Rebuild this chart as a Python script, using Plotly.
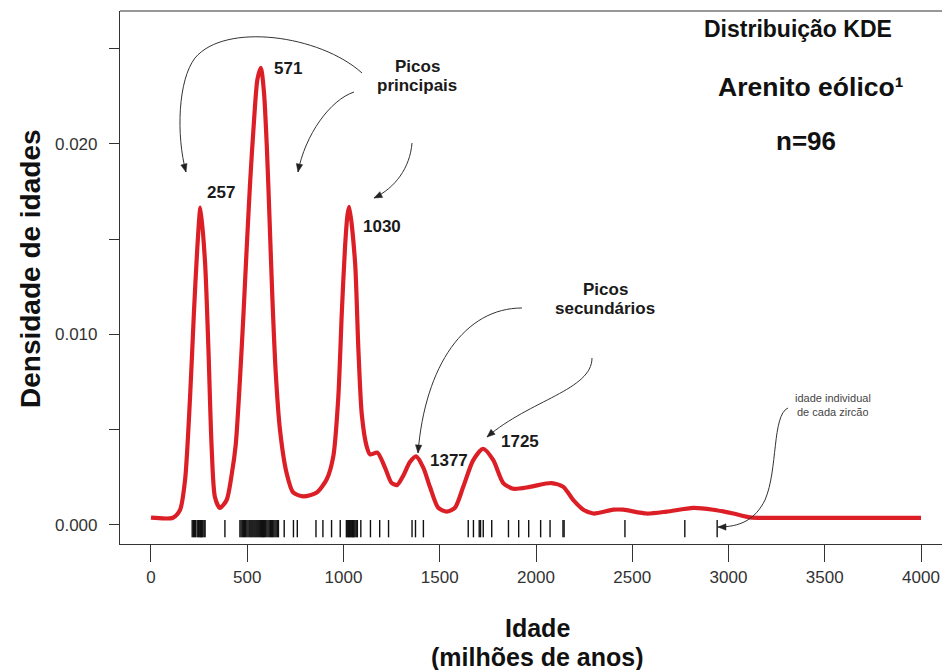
import math
import plotly.graph_objects as go

# ---------------- data ----------------
# KDE curve (age in Ma, density)
age_curve = [0, 114, 151, 177, 203, 223, 241, 257, 281, 298, 315, 332, 358, 393, 420,
             440, 462, 480, 497, 515, 535, 553, 571, 587, 602, 616, 631, 648, 670, 705,
             739, 791, 861, 913, 947, 973, 991, 1008, 1021, 1030, 1060, 1077, 1095, 1121,
             1138, 1176, 1216, 1250, 1279, 1311, 1345, 1377, 1415, 1449, 1492, 1536, 1579,
             1622, 1674, 1725, 1778, 1830, 1882, 1969, 2081, 2142, 2194, 2246, 2298,
             2402, 2454, 2575, 2679, 2817, 2921, 3025, 3112, 3198, 4000]
density_curve = [0.00038, 0.00038, 0.00079, 0.00236, 0.00672, 0.01113, 0.01462, 0.01666,
                 0.01375, 0.00934, 0.00409, 0.00147, 0.00089, 0.00131, 0.00270,
                 0.00420, 0.00761, 0.01100, 0.01450, 0.01800, 0.02120, 0.02340, 0.02400,
                 0.02270, 0.01980, 0.01600, 0.01180, 0.00800, 0.00500, 0.00270,
                 0.00170, 0.00150, 0.00170, 0.00240, 0.00360, 0.00670, 0.01110, 0.01460,
                 0.01630, 0.01670, 0.01380, 0.00930, 0.00580, 0.00410,
                 0.00370, 0.00380, 0.00300, 0.00220, 0.00210, 0.00260, 0.00330, 0.00360,
                 0.00300, 0.00200, 0.00090, 0.00070, 0.00090,
                 0.00200, 0.00340, 0.00400, 0.00340, 0.00220, 0.00190, 0.00200, 0.00220,
                 0.00200, 0.00130, 0.00080, 0.00060,
                 0.00080, 0.00080, 0.00060, 0.00070, 0.00090, 0.00080, 0.00060, 0.00040,
                 0.00037, 0.00037]

# individual zircon ages (rug), n = 96
zircon_ages = [214, 220, 226, 232, 240, 246, 250, 254, 258, 262, 266, 270, 276, 281,
               384,
               462, 468, 474, 480, 486, 492, 498, 504, 510, 515, 520, 525, 530, 535, 540,
               545, 550, 555, 560, 565, 570, 575, 580, 585, 590, 596, 602, 608, 614, 620,
               626, 632, 638, 644, 650, 656, 662,
               692, 740, 760, 857, 893, 938, 983,
               1015, 1019, 1023, 1027, 1031, 1035, 1039, 1043, 1047, 1051, 1055, 1060, 1066,
               1072, 1090, 1140, 1188, 1234,
               1356, 1374, 1415,
               1648, 1675, 1705, 1712, 1726, 1770, 1857, 1910, 1962, 2024, 2073, 2140, 2146,
               2462, 2773, 2941]

peak_labels = ["257", "571", "1030", "1377", "1725"]

x_tick_vals = [0, 500, 1000, 1500, 2000, 2500, 3000, 3500, 4000]
y_tick_vals = [0.000, 0.005, 0.010, 0.015, 0.020, 0.025]
y_tick_text = ["0.000", "", "0.010", "", "0.020", ""]

# ---------------- layout geometry ----------------
W, H = 942, 670
L, R, T, B = 120, 0, 11, 126
PW, PH = W - L - R, H - T - B
FONT = "Liberation Sans, Arial, sans-serif"
RED = "#dc1f26"


def pp(px, py):
    """pixel -> paper coordinates"""
    return (px - L) / PW, (H - B - py) / PH


fig = go.Figure()

# KDE curve
fig.add_trace(go.Scatter(
    x=age_curve, y=density_curve, mode="lines",
    line=dict(color=RED, width=4.2, shape="spline", smoothing=0.7),
    hoverinfo="skip", showlegend=False))

# rug
rug_lo, rug_hi = -0.00065, 0.00026
rx, ry = [], []
for a in zircon_ages:
    rx += [a, a, None]
    ry += [rug_lo, rug_hi, None]
fig.add_trace(go.Scatter(x=rx, y=ry, mode="lines",
                         line=dict(color="#111111", width=1.4),
                         hoverinfo="skip", showlegend=False))

shapes = []
# top border of the box
shapes.append(dict(type="line", xref="paper", yref="paper", x0=0, x1=1, y0=1, y1=1,
                   line=dict(color="#333333", width=1.2)))


def path_str(segs):
    s = ""
    for i, seg in enumerate(segs):
        if i == 0:
            x, y = pp(*seg[0])
            s += f"M {x:.5f},{y:.5f} "
            pts = seg[1:]
        else:
            pts = seg
        s += "C " + " ".join(f"{pp(*p)[0]:.5f},{pp(*p)[1]:.5f}" for p in pts) + " "
    return s


def add_arrow(segs):
    shapes.append(dict(type="path", xref="paper", yref="paper", path=path_str(segs),
                       line=dict(color="#333333", width=1)))
    last = segs[-1]
    tip = last[-1]
    ctrl = last[-2]
    dx, dy = tip[0] - ctrl[0], tip[1] - ctrl[1]
    n = math.hypot(dx, dy)
    dx, dy = dx / n, dy / n
    Lh, Wh = 8, 3.2
    bx, by = tip[0] - dx * Lh, tip[1] - dy * Lh
    p1 = (bx - dy * Wh, by + dx * Wh)
    p2 = (bx + dy * Wh, by - dx * Wh)
    pts = [pp(*tip), pp(*p1), pp(*p2)]
    sp = (f"M {pts[0][0]:.5f},{pts[0][1]:.5f} L {pts[1][0]:.5f},{pts[1][1]:.5f} "
          f"L {pts[2][0]:.5f},{pts[2][1]:.5f} Z")
    shapes.append(dict(type="path", xref="paper", yref="paper", path=sp,
                       fillcolor="#222222", line=dict(color="#222222", width=0.5)))


add_arrow([[(362, 73), (320, 35), (225, 22), (195, 58)],
           [(178, 80), (176, 135), (186, 172)]])
add_arrow([[(354, 92), (330, 100), (305, 135), (298, 172)]])
add_arrow([[(412, 143), (410, 168), (395, 188), (374, 198)]])
add_arrow([[(522, 308), (465, 308), (425, 365), (418, 453)]])
add_arrow([[(592, 358), (592, 390), (530, 400), (487, 437)]])
add_arrow([[(788, 408), (772, 415), (778, 470), (765, 500)],
           [(755, 520), (740, 527), (718, 527)]])

annotations = []


def txt(text, px, py, size, bold=True, color="#111111", xanchor="center", angle=0,
        height=None):
    x, y = pp(px, py)
    a = dict(
        text=f"<b>{text}</b>" if bold else text, x=x, y=y, xref="paper", yref="paper",
        xanchor=xanchor, yanchor="middle", showarrow=False, textangle=angle,
        font=dict(family=FONT, size=size, color=color))
    if height is not None:
        a["height"] = height
        a["valign"] = "middle"
    annotations.append(a)


txt("Distribuição KDE", 798, 29, 23)
txt("Arenito eólico¹", 811, 87, 26.5)
txt("n=96", 806, 141, 26)

peak_pos = [(205, 192), (272, 68), (361, 226), (428, 460), (499, 441)]
for lab, (px, py) in zip(peak_labels, peak_pos):
    txt(lab, px, py, 17, xanchor="left", color="#1a1a1a")

txt("Picos", 417, 66, 17, color="#1a1a1a", height=19)
txt("principais", 417, 86, 17, color="#1a1a1a", height=19)
txt("Picos", 605, 289, 17, color="#1a1a1a", height=18)
txt("secundários", 605, 308, 17, color="#1a1a1a", height=18)
txt("idade individual", 833, 397, 11, bold=False, color="#444444", height=13)
txt("de cada zircão", 833, 411, 11, bold=False, color="#444444", height=13)

txt("Densidade de idades", 30, 269, 28, angle=-90)
txt("Idade", 537, 628, 25, height=28)
txt("(milhões de anos)", 537, 657, 25, height=28)

fig.update_layout(
    width=W, height=H,
    margin=dict(l=L, r=R, t=T, b=B, pad=0),
    paper_bgcolor="white", plot_bgcolor="white",
    shapes=shapes, annotations=annotations,
    showlegend=False,
    xaxis=dict(range=[-161, 4109], tickvals=x_tick_vals,
               ticktext=[str(v) for v in x_tick_vals],
               showgrid=False, zeroline=False, showline=True, linecolor="#333333",
               linewidth=1.2, ticks="outside", ticklen=17, tickcolor="#333333",
               tickwidth=1.2, tickfont=dict(family=FONT, size=17, color="#333333")),
    yaxis=dict(range=[-0.00100, 0.02698], tickvals=y_tick_vals, ticktext=y_tick_text,
               showgrid=False, zeroline=False, showline=True, linecolor="#333333",
               linewidth=1.2, ticks="outside", ticklen=10, tickcolor="#333333",
               tickwidth=1.2, ticklabelstandoff=8,
               tickfont=dict(family=FONT, size=17, color="#333333")),
)

fig.write_html("out.html",
               config={"displayModeBar": False},
               post_script="document.body.style.margin='0';document.body.style.padding='0';"
                           "document.body.style.overflow='hidden';")
